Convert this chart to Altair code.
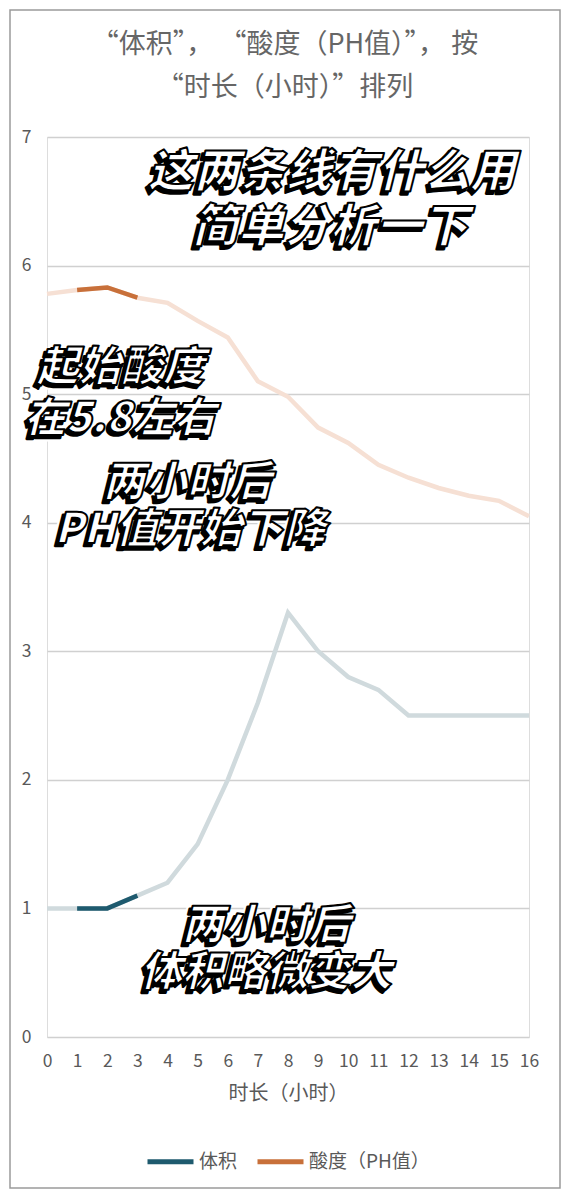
import altair as alt
import pandas as pd

hours = list(range(17))
volume = [1.0, 1.0, 1.0, 1.1, 1.2, 1.5, 2.0, 2.6, 3.3, 3.0, 2.8, 2.7, 2.5, 2.5, 2.5, 2.5, 2.5]
ph = [5.78, 5.81, 5.83, 5.75, 5.71, 5.57, 5.44, 5.10, 4.98, 4.74, 4.62, 4.45, 4.35, 4.27, 4.21, 4.17, 4.05]
series_names = ["体积", "酸度（PH值）"]
highlight_hours = [1, 2, 3]

title_lines = ["“体积”， “酸度（PH值）”， 按", "“时长（小时）”排列"]

note_texts = ["这两条线有什么用", "简单分析一下", "起始酸度", "在5.8左右",
              "两小时后", "PH值开始下降", "两小时后", "体积略微变大"]
note_x = [9.45, 9.4, 2.45, 2.42, 4.65, 4.75, 7.27, 7.27]
note_y = [6.72, 6.29, 5.2, 4.81, 4.31, 3.94, 0.86, 0.5]
note_size = [46, 46, 42, 42, 42, 42, 42, 42]

FONT = "Noto Sans CJK SC"
GREY = "#595959"

df = pd.DataFrame({
    "hour": hours * 2,
    "value": volume + ph,
    "series": [series_names[0]] * len(hours) + [series_names[1]] * len(hours),
})
df_hl = df[df["hour"].isin(highlight_hours)]
notes = pd.DataFrame({"text": note_texts, "hour": note_x, "value": note_y, "size": note_size})
titles = pd.DataFrame({"text": title_lines, "line": [0, 1]})

xs = alt.X("hour:Q", title="时长（小时）",
           scale=alt.Scale(domain=[0, 16], nice=False),
           axis=alt.Axis(values=hours, grid=False, domain=False, ticks=False,
                         labelFontSize=17.5, labelColor=GREY, labelPadding=15,
                         labelFont=FONT, titleFont=FONT, titleFontSize=20,
                         titleColor=GREY, titleFontWeight="normal", titlePadding=14,
                         labelFlush=False, labelOverlap=False))
ys = alt.Y("value:Q", title=None,
           scale=alt.Scale(domain=[0, 7], nice=False),
           axis=alt.Axis(values=list(range(8)), format="d", domain=False, ticks=False,
                         labelFontSize=17.5, labelColor=GREY, labelPadding=16,
                         labelFont=FONT, gridColor="#d0d0d0", gridWidth=1.3))

base = alt.Chart(df)

faded_vol = base.transform_filter(alt.datum.series == series_names[0]).mark_line(
    strokeWidth=4.5, color="#d0dadd").encode(x=xs, y=ys)
faded_ph = base.transform_filter(alt.datum.series == series_names[1]).mark_line(
    strokeWidth=4.5, color="#f6e0d4").encode(x=xs, y=ys)

hl = alt.Chart(df_hl).mark_line(strokeWidth=4.5).encode(
    x=xs, y=ys,
    color=alt.Color("series:N", title=None,
                    scale=alt.Scale(domain=series_names, range=["#1e5a6e", "#c8703a"]),
                    legend=alt.Legend(orient="none", legendX=98, legendY=999,
                                      direction="horizontal", symbolType="stroke",
                                      symbolSize=2116, symbolStrokeWidth=5,
                                      labelFontSize=19, labelColor=GREY, labelFont=FONT,
                                      labelOffset=3, columnPadding=9)),
    detail="series:N",
)

nbase = alt.Chart(notes).encode(
    x=xs, y=ys,
    text="text:N",
    size=alt.Size("size:Q", scale=None, legend=None),
)
halo = nbase.mark_text(font=FONT, fontWeight=900, fontStyle="italic",
                       dx=-3, dy=3, color="white", stroke="white", strokeWidth=7,
                       strokeJoin="round")
shadow = nbase.mark_text(font=FONT, fontWeight=900, fontStyle="italic",
                         dx=-3, dy=3, color="black", stroke="black", strokeWidth=2.5,
                         strokeJoin="round")
main = nbase.mark_text(font=FONT, fontWeight=900, fontStyle="italic",
                       color="white", stroke="black", strokeWidth=2,
                       strokeJoin="round")

tbase = alt.Chart(titles)
title1 = tbase.transform_filter(alt.datum.line == 0).mark_text(
    font=FONT, fontSize=27, color="#666666", baseline="middle", align="center").encode(
    text="text:N", x=alt.value(238), y=alt.value(-92))
title2 = tbase.transform_filter(alt.datum.line == 1).mark_text(
    font=FONT, fontSize=27, color="#666666", baseline="middle", align="center").encode(
    text="text:N", x=alt.value(238), y=alt.value(-49))

frame = alt.Chart(pd.DataFrame({"a": [0]})).mark_rect(
    fill="transparent", stroke="#9a9a9a", strokeWidth=1.5).encode(
    x=alt.value(-37), x2=alt.value(513), y=alt.value(-127), y2=alt.value(1051))

chart = alt.layer(frame, faded_vol, faded_ph, hl, halo, shadow, main, title1, title2).properties(
    width=482, height=900,
    autosize=alt.AutoSizeParams(type="none"),
    padding={"left": 39, "top": 129, "right": 33, "bottom": 153},
).configure_view(stroke="#d0d0d0", strokeWidth=1.3).configure(background="white")

chart.save("out.html", embed_options={"renderer": "svg", "actions": False})
